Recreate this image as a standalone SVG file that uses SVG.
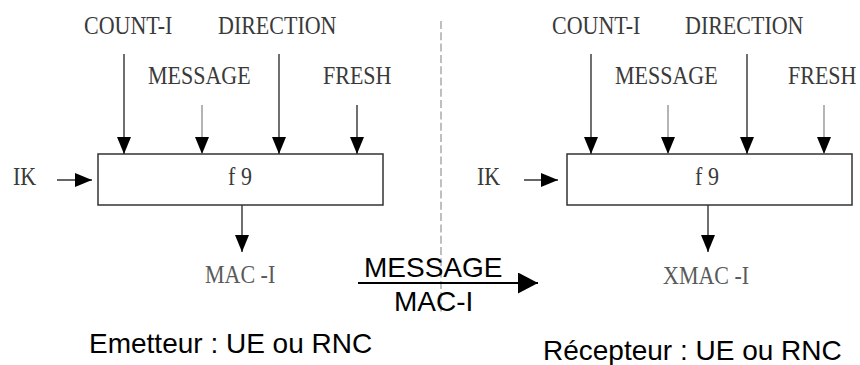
<svg xmlns="http://www.w3.org/2000/svg" width="860" height="365" viewBox="0 0 860 365">
<style>
.lbl{font-family:"Liberation Serif","Times New Roman",serif;font-size:22px;fill:#3a3a3a}
.out{font-family:"Liberation Serif","Times New Roman",serif;font-size:22px;fill:#5a5a5a}
.big{font-family:"Liberation Sans",Arial,sans-serif;font-size:28px;fill:#000}
.box{fill:#fff;stroke:#333;stroke-width:1.5}
.in{stroke:#333;stroke-width:1.4;fill:none}
.inl{stroke:#777;stroke-width:1.1;fill:none}
.sep{stroke:#aaa;stroke-width:1.5;stroke-dasharray:8 3.3;fill:none}
</style>
<defs>
<marker id="ah" markerUnits="userSpaceOnUse" markerWidth="18" markerHeight="15" refX="17" refY="7" orient="auto">
<path d="M0,0 L17,7 L0,14 z" fill="#000"/>
</marker>
<marker id="ahb" markerUnits="userSpaceOnUse" markerWidth="22" markerHeight="22" refX="20" refY="10.5" orient="auto">
<path d="M0,0 L20,10.5 L0,21 z" fill="#000"/>
</marker>
</defs>
<rect width="860" height="365" fill="#fff"/>
<line class="sep" x1="441" y1="21" x2="441" y2="313"/>
<g id="sender">
<rect class="box" x="98" y="154" width="285" height="51"/>
<text class="lbl" transform="translate(240 185) scale(1 1.1)" text-anchor="middle">f 9</text>
</g>
<g id="receiver">
<rect class="box" x="567" y="154" width="285" height="51"/>
<text class="lbl" transform="translate(707 185) scale(1 1.1)" text-anchor="middle">f 9</text>
</g>
<g id="labels-left">
<text class="lbl" transform="translate(84 34) scale(1 1.1)">COUNT-I</text>
<text class="lbl" transform="translate(218 34) scale(1 1.1)">DIRECTION</text>
<text class="lbl" transform="translate(148 84) scale(1 1.1)">MESSAGE</text>
<text class="lbl" transform="translate(323 84) scale(1 1.1)">FRESH</text>
<text class="lbl" transform="translate(13 185) scale(1 1.1)">IK</text>
<text class="out" transform="translate(205 283) scale(1 1.1)">MAC -I</text>
</g>
<g id="labels-right">
<text class="lbl" transform="translate(552 34) scale(1 1.1)">COUNT-I</text>
<text class="lbl" transform="translate(685 34) scale(1 1.1)">DIRECTION</text>
<text class="lbl" transform="translate(615 84) scale(1 1.1)">MESSAGE</text>
<text class="lbl" transform="translate(788 84) scale(1 1.1)">FRESH</text>
<text class="lbl" transform="translate(477 185) scale(1 1.1)">IK</text>
<text class="out" transform="translate(663 284) scale(1 1.1)">XMAC -I</text>
</g>
<g id="connectors">
<line class="in" x1="124" y1="54" x2="124" y2="154" marker-end="url(#ah)"/>
<line class="inl" x1="202" y1="105" x2="202" y2="154" marker-end="url(#ah)"/>
<line class="in" x1="279" y1="54" x2="279" y2="154" marker-end="url(#ah)"/>
<line class="in" x1="357" y1="105" x2="357" y2="154" marker-end="url(#ah)"/>
<line class="in" x1="57" y1="180" x2="92" y2="180" marker-end="url(#ah)"/>
<line class="in" x1="242" y1="205" x2="242" y2="252" marker-end="url(#ah)"/>
<line class="in" x1="591" y1="54" x2="591" y2="154" marker-end="url(#ah)"/>
<line class="inl" x1="668" y1="105" x2="668" y2="154" marker-end="url(#ah)"/>
<line class="in" x1="747" y1="54" x2="747" y2="154" marker-end="url(#ah)"/>
<line class="inl" x1="824" y1="105" x2="824" y2="154" marker-end="url(#ah)"/>
<line class="in" x1="524" y1="180" x2="558" y2="180" marker-end="url(#ah)"/>
<line class="in" x1="708" y1="205" x2="708" y2="252" marker-end="url(#ah)"/>
<line stroke="#000" stroke-width="1.8" x1="358" y1="283" x2="538" y2="283" marker-end="url(#ahb)"/>
</g>
<g id="transfer-labels">
<text class="big" x="364" y="277">MESSAGE</text>
<text class="big" x="394" y="311">MAC-I</text>
</g>
<g id="captions">
<text class="big" x="89" y="353">Emetteur : UE ou RNC</text>
<text class="big" x="543" y="360">Récepteur : UE ou RNC</text>
</g>
</svg>
